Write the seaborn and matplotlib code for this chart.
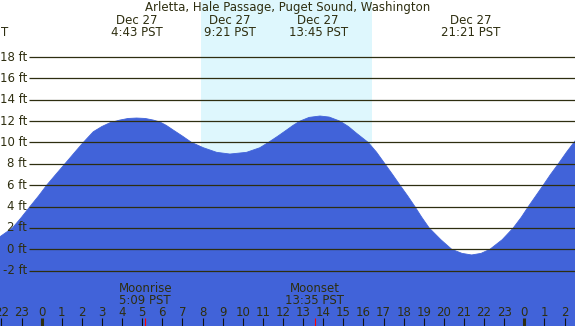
import numpy as np
import pandas as pd
import matplotlib
matplotlib.use("Agg")
import matplotlib.pyplot as plt
import seaborn as sns

# 数据：潮高（小时，英尺）
hours = [-2.07, -1.45, -1.0, -0.58, -0.15, 0.25, 0.7, 1.32, 1.7, 2.07, 2.57, 3.0,
         3.4, 3.89, 4.3, 4.72, 5.15, 5.55, 5.88, 6.2, 6.54, 7.0, 7.46, 8.04,
         8.7, 9.36, 10.19, 10.85, 11.27, 11.75, 12.18, 12.5, 12.84, 13.3, 13.84,
         14.3, 14.83, 15.25, 15.66, 16.24, 16.65, 17.07, 17.45, 17.82, 18.2,
         18.56, 18.9, 19.27, 19.85, 20.39, 20.9, 21.38, 21.85, 22.29, 22.9,
         23.45, 23.85, 24.2, 24.57, 24.94, 25.3, 25.69, 26.1, 26.52]
heights = [1.18, 2.0, 3.0, 4.0, 5.0, 6.0, 7.0, 8.36, 9.2, 10.0, 11.01, 11.5,
           11.85, 12.1, 12.25, 12.29, 12.25, 12.1, 11.92, 11.6, 11.17, 10.6, 10.0, 9.51,
           9.08, 8.92, 9.08, 9.51, 10.0, 10.6, 11.17, 11.6, 12.0, 12.35, 12.48,
           12.38, 12.0, 11.5, 10.86, 10.0, 9.1, 8.0, 7.0, 6.0, 5.0,
           4.0, 3.0, 2.0, 0.9, 0.0, -0.38, -0.53, -0.38, 0.0, 0.9,
           2.0, 3.0, 4.0, 5.0, 6.0, 7.0, 8.0, 9.1, 10.14]

# 高低潮时刻标签
tide_times = [4 + 43/60, 9 + 21/60, 13 + 45/60, 21 + 21/60]
tide_labels = ["4:43 PST", "9:21 PST", "13:45 PST", "21:21 PST"]

# 日出日落、月出月落
sunrise, sunset = 7.92, 16.42
moon_times = [5 + 9/60, 13 + 35/60]
moon_names = ["Moonrise", "Moonset"]
moon_labels = ["5:09 PST", "13:35 PST"]

levels = list(range(-2, 20, 2))
tick_hours = list(range(-2, 27))

df = pd.DataFrame({"hour": hours, "height": heights})

night = "#b0c4de"
day = "#def7fd"
water = "#4163d9"
ink = "#2e2e10"
fs = 8.5

W, H = 575, 326
x0, x1 = -2.07, 26.52
y0, y1 = -7.18, 23.34

fig = plt.figure(figsize=(W / 100, H / 100), dpi=100)
ax = fig.add_axes([0, 0, 1, 1])
ax.set_facecolor(night)

ax.axvspan(sunrise, sunset, color=day, lw=0, zorder=0)

ax.fill_between(df["hour"], y0, df["height"], color=water, lw=0, zorder=1)
sns.lineplot(data=df, x="hour", y="height", color=water, lw=0.6, ax=ax, zorder=2)
ax.set_xlim(x0, x1)
ax.set_ylim(y0, y1)
ax.axis("off")

# 水平线和左侧标签
for lv in levels:
    ax.hlines(lv, -0.63, x1, color=ink, lw=0.9, zorder=3)
    ax.text(-0.73, lv, f"{lv} ft", ha="right", va="center", fontsize=fs, color=ink)

tr = ax.get_xaxis_transform()

def fy(py):
    return 1 - py / H

# 文字按基线对齐
fig.text(0.5, fy(11), "Arletta, Hale Passage, Puget Sound, Washington",
         ha="center", va="baseline", fontsize=fs, color=ink)
fig.text(1 / W, fy(36), "T", ha="left", va="baseline", fontsize=fs, color=ink)

for t, lab in zip(tide_times, tide_labels):
    ax.text(t, fy(24), "Dec 27", ha="center", va="baseline", fontsize=fs, color=ink, transform=tr)
    ax.text(t, fy(36), lab, ha="center", va="baseline", fontsize=fs, color=ink, transform=tr)

for t, nm, lab in zip(moon_times, moon_names, moon_labels):
    ax.text(t, fy(292), nm, ha="center", va="baseline", fontsize=fs, color=ink, transform=tr)
    ax.text(t, fy(304), lab, ha="center", va="baseline", fontsize=fs, color=ink, transform=tr)
    ax.vlines(t, 0, fy(318), color="red", lw=0.8, transform=tr, zorder=4)

# 底部小时刻度
for h in tick_hours:
    ax.text(h, fy(316), str(h % 24), ha="center", va="baseline", fontsize=fs, color=ink, transform=tr)
    thick = (h % 24 == 0)
    ax.vlines(h, 0, fy(318), color=ink if thick else "#111111",
              lw=2.2 if thick else 0.8, transform=tr, zorder=4)

fig.savefig("out.png", dpi=100)
